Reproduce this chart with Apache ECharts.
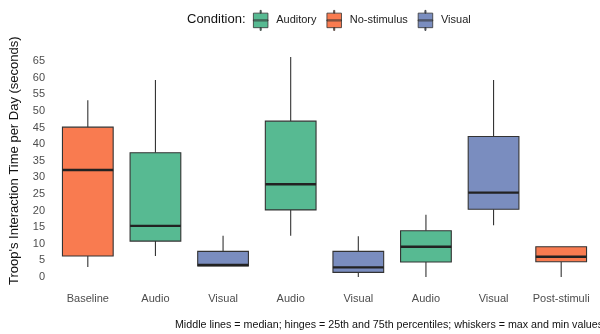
<!DOCTYPE html>
<html>
<head>
<meta charset="utf-8">
<script src="https://cdn.jsdelivr.net/npm/echarts@6/dist/echarts.min.js"></script>
<style>
  html, body { margin: 0; padding: 0; background: #fff; }
  #chart { width: 600px; height: 334px; }
</style>
</head>
<body>
<div id="chart"></div>
<script>
// Phases of the experiment, left to right
const categories = ['Baseline', 'Audio', 'Visual', 'Audio', 'Visual', 'Audio', 'Visual', 'Post-stimuli'];
// Condition of each phase
const conditions = ['No-stimulus', 'Auditory', 'Visual', 'Auditory', 'Visual', 'Auditory', 'Visual', 'No-stimulus'];
// Five-number summaries per phase: [min, Q1, median, Q3, max] (seconds)
const summaries = [
  [3.0, 6.3, 32.2, 45.1, 53.2],
  [6.3, 10.8, 15.4, 37.4, 59.3],
  [3.3, 3.3, 3.6, 7.7, 12.4],
  [12.4, 20.2, 27.9, 46.9, 66.2],
  [0.0, 1.4, 2.9, 7.7, 12.3],
  [0.0, 4.5, 9.1, 13.9, 18.7],
  [15.6, 20.4, 25.4, 42.3, 59.3],
  [0.0, 4.6, 6.1, 9.1, 9.1]
];
const conditionNames = ['Auditory', 'No-stimulus', 'Visual'];
const conditionColors = { 'Auditory': '#57BA92', 'No-stimulus': '#F97B50', 'Visual': '#7A8DBF' };
const yTicks = [0, 5, 10, 15, 20, 25, 30, 35, 40, 45, 50, 55, 60, 65];

const FONT = 'Liberation Sans, Arial, sans-serif';
const chart = echarts.init(document.getElementById('chart'), null, { renderer: 'canvas' });

// Boxplot glyph used in the legend: whisker stubs, box and a median bar
const legendIcon = 'path://M7.4,0H8.6V3H7.4Z M0,3H16V19H0Z M0,10.4H16V11.6H0Z M7.4,19H8.6V22H7.4Z';

// Box drawn as: whisker line (min..max), filled box (Q1..Q3), thick median bar
function renderBox(params, api) {
  const x = api.value(0);
  const pMin = api.coord([x, api.value(1)]);
  const pQ1 = api.coord([x, api.value(2)]);
  const pMed = api.coord([x, api.value(3)]);
  const pQ3 = api.coord([x, api.value(4)]);
  const pMax = api.coord([x, api.value(5)]);
  const half = api.size([1, 0])[0] * 0.75 / 2;
  const cx = pMed[0];
  const fill = api.visual('color');
  return {
    type: 'group',
    children: [
      { type: 'line', shape: { x1: cx, y1: pMax[1], x2: cx, y2: pQ3[1] },
        style: { stroke: '#333', lineWidth: 1.1 } },
      { type: 'line', shape: { x1: cx, y1: pQ1[1], x2: cx, y2: pMin[1] },
        style: { stroke: '#333', lineWidth: 1.1 } },
      { type: 'rect', shape: { x: cx - half, y: pQ3[1], width: half * 2, height: pQ1[1] - pQ3[1] },
        style: { fill: fill, stroke: '#333', lineWidth: 1.1 } },
      { type: 'line', shape: { x1: cx - half, y1: pMed[1], x2: cx + half, y2: pMed[1] },
        style: { stroke: '#222', lineWidth: 2.4 } }
    ]
  };
}

const boxSeries = conditionNames.map(name => ({
  name: name,
  type: 'custom',
  renderItem: renderBox,
  itemStyle: { color: conditionColors[name] },
  silent: true,
  encode: { x: 0, y: [1, 2, 3, 4, 5] },
  data: summaries
    .map((s, k) => [k, ...s])
    .filter((row, k) => conditions[k] === name)
}));

chart.setOption({
  animation: false,
  backgroundColor: '#fff',
  title: [{
    text: 'Condition:',
    left: 182, top: 8,
    textStyle: { fontSize: 13, fontWeight: 'normal', color: '#111', fontFamily: FONT }
  }],
  legend: {
    data: conditionNames.map(n => ({
      name: n,
      itemStyle: { color: conditionColors[n], borderColor: '#333', borderWidth: 0.8 }
    })),
    left: 248, top: 5,
    icon: legendIcon,
    itemWidth: 15, itemHeight: 20,
    itemGap: 10,
    selectedMode: false,
    textStyle: { fontSize: 11, color: '#222', fontFamily: FONT, padding: [0, 0, 0, 3] }
  },
  grid: { left: 51, right: 5, top: 44.4, height: 232.6, containLabel: false },
  xAxis: {
    type: 'category',
    data: categories,
    axisLine: { show: false },
    axisTick: { show: false },
    splitLine: { show: false },
    axisLabel: { interval: 0, color: '#4d4d4d', fontSize: 11, margin: 16, fontFamily: FONT }
  },
  yAxis: {
    type: 'value',
    min: 0, max: 70, interval: 5,
    name: "Troop's Interaction Time per Day (seconds)",
    nameLocation: 'middle',
    nameGap: 33,
    nameTextStyle: { fontSize: 13, color: '#111', fontFamily: FONT },
    axisLine: { show: false },
    axisTick: { show: false },
    splitLine: { show: false },
    axisLabel: {
      color: '#4d4d4d', fontSize: 11, margin: 9, fontFamily: FONT,
      formatter: v => yTicks.includes(v) ? String(v) : ''
    }
  },
  graphic: [{
    type: 'text',
    right: -3, top: 320,
    style: {
      text: 'Middle lines = median; hinges = 25th and 75th percentiles; whiskers = max and min values',
      fontSize: 10.7, fill: '#111', fontFamily: FONT
    }
  }],
  series: boxSeries
});
</script>
</body>
</html>
